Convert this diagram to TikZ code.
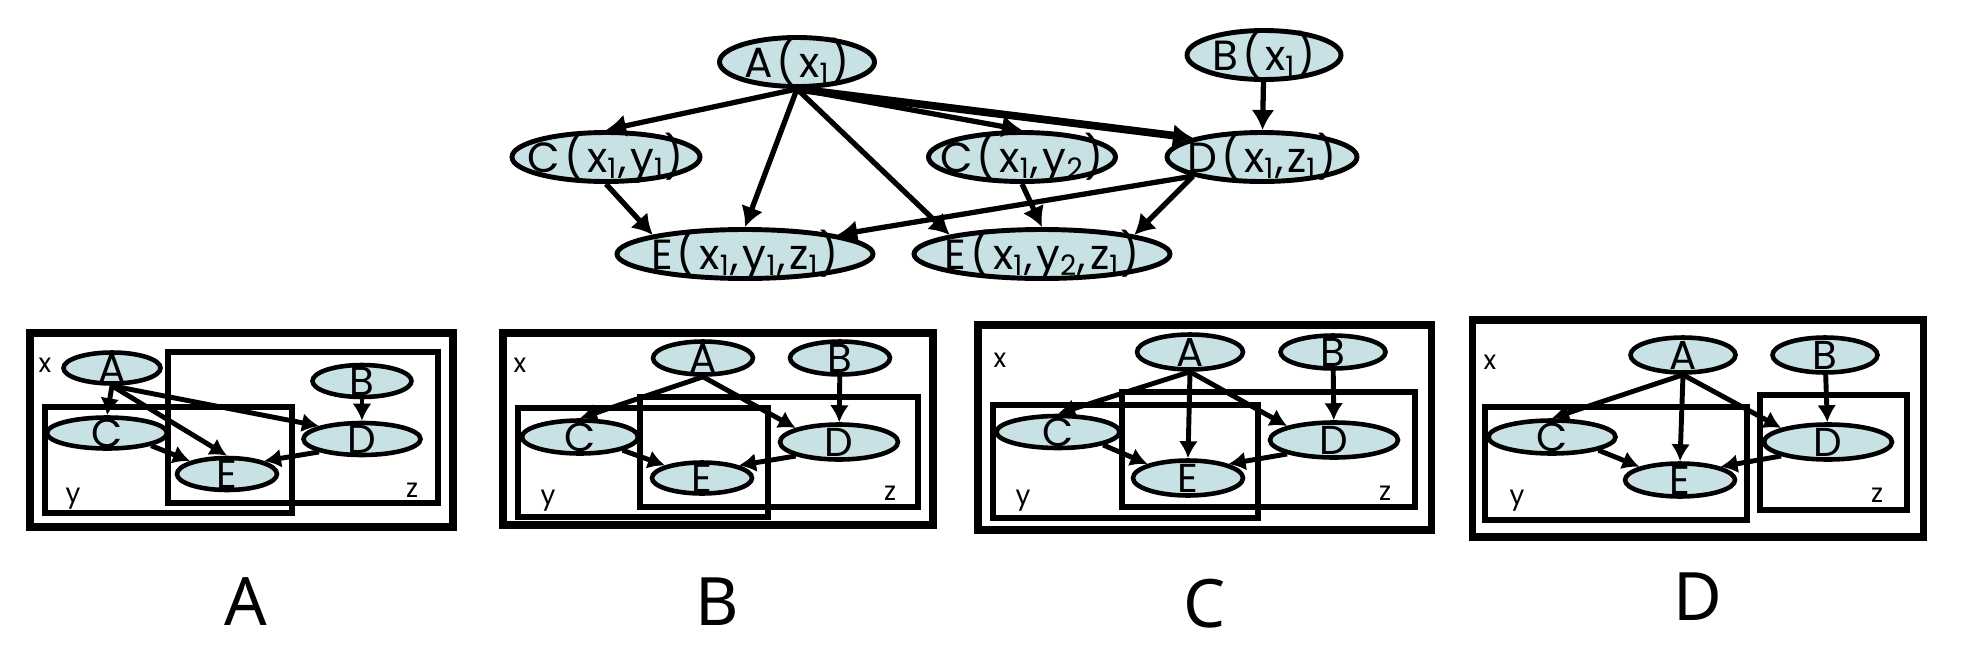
\documentclass[tikz,border=0pt]{standalone}
\usepackage{fontspec}
\setmainfont{Poppins}
\newfontfamily\capfont{Noto Sans}
\usetikzlibrary{positioning, shapes.geometric, arrows.meta}
\definecolor{nodefill}{RGB}{200,225,229}
\newcommand{\ovaltext}[1]{\makebox[0pt]{\raisebox{-0.36em}[0pt][0pt]{#1}}}

\begin{document}
\begin{tikzpicture}[ell/.style={ellipse, draw, line width=1.4pt, fill=nodefill, inner sep=0pt},
  bigell/.style={ell, minimum height=0.49cm, font=\fontsize{12}{12}\selectfont\addfontfeatures{LetterSpace=9}},
  smallell/.style={ell, line width=1.3pt, font=\fontsize{11.5}{11.5}\selectfont},
  arr/.style={-{Latex[length=2mm,width=2.3mm]}, line width=1.5pt},
  parr/.style={-{Latex[length=1.7mm,width=1.9mm]}, line width=1.4pt},
  outerbox/.style={line width=2pt}, plate/.style={line width=1.6pt},
  platelbl/.style={font=\fontsize{7.5}{7.5}\selectfont, inner sep=0pt},
  caplbl/.style={font=\capfont\fontsize{19}{19}\selectfont, anchor=base, inner sep=0pt}]
\useasboundingbox (0,0) rectangle (19.74,-6.52);

% top graph
\node (a) [bigell, minimum width=1.55cm] at (7.97,-0.62) {\ovaltext{A(x\textsubscript{1})}};
\node (b) [bigell, minimum width=1.54cm] at (12.64,-0.55) {\ovaltext{B(x\textsubscript{1})}};
\node (c1) [bigell, minimum width=1.88cm] at (6.06,-1.57) {\ovaltext{C(x\textsubscript{1},y\textsubscript{1})}};
\node (c2) [bigell, minimum width=1.87cm] at (10.22,-1.57) {\ovaltext{C(x\textsubscript{1},y\textsubscript{2})}};
\node (d) [bigell, minimum width=1.90cm] at (12.62,-1.57) {\ovaltext{D(x\textsubscript{1},z\textsubscript{1})}};
\node (e1) [bigell, minimum width=2.56cm] at (7.45,-2.54) {\ovaltext{E(x\textsubscript{1},y\textsubscript{1},z\textsubscript{1})}};
\node (e2) [bigell, minimum width=2.56cm] at (10.42,-2.54) {\ovaltext{E(x\textsubscript{1},y\textsubscript{2},z\textsubscript{1})}};
\draw [arr] (a.south) -- (c1.north);
\draw [arr] (a.south) -- (e1.north);
\draw [arr] (a.south) -- (e2.north west);
\draw [arr] (a.south) -- (c2.north);
\draw [arr, line width=2.2pt] (a.south) -- (d.north west);
\draw [arr] (b) -- (d);
\draw [arr] (c1.south) -- (e1.north west);
\draw [arr] (c2.south) -- (e2.north);
\draw [arr] (d.south west) -- (e1.north east);
\draw [arr] (d.south west) -- (e2.north east);

% panel A
\draw [outerbox] (0.30,-3.33) rectangle (4.53,-5.27);
\draw [plate] (1.68,-3.52) rectangle (4.38,-5.03);
\draw [plate] (0.45,-4.07) rectangle (2.92,-5.13);
\node (ax) [platelbl] at (0.45,-3.65) {x};
\node (ay) [platelbl] at (0.73,-4.99) {y};
\node (az) [platelbl] at (4.12,-4.90) {z};
\node (aA) [smallell, minimum width=0.97cm, minimum height=0.31cm] at (1.12,-3.68) {\ovaltext{A}};
\node (aB) [smallell, minimum width=0.99cm, minimum height=0.32cm] at (3.62,-3.81) {\ovaltext{B}};
\node (aC) [smallell, minimum width=1.20cm, minimum height=0.31cm] at (1.07,-4.33) {\ovaltext{C}};
\node (aD) [smallell, minimum width=1.17cm, minimum height=0.32cm] at (3.62,-4.39) {\ovaltext{D}};
\node (aE) [smallell, minimum width=1.00cm, minimum height=0.32cm] at (2.27,-4.74) {\ovaltext{E}};
\draw [parr] (aA.south) -- (aC.north);
\draw [parr] (aA.south) -- (aE.north);
\draw [parr] (aA.south) -- (aD.north west);
\draw [parr] (aB) -- (aD);
\draw [parr] (aC.south east) -- (aE.north west);
\draw [parr] (aD.south west) -- (aE.north east);

% panel B
\draw [outerbox] (5.03,-3.33) rectangle (9.33,-5.25);
\draw [plate] (6.40,-3.97) rectangle (9.18,-5.07);
\draw [plate] (5.18,-4.08) rectangle (7.68,-5.17);
\node (bx) [platelbl] at (5.20,-3.65) {x};
\node (by) [platelbl] at (5.48,-5.01) {y};
\node (bz) [platelbl] at (8.90,-4.93) {z};
\node (bA) [smallell, minimum width=1.00cm, minimum height=0.33cm] at (7.03,-3.58) {\ovaltext{A}};
\node (bB) [smallell, minimum width=1.00cm, minimum height=0.33cm] at (8.40,-3.58) {\ovaltext{B}};
\node (bC) [smallell, minimum width=1.16cm, minimum height=0.33cm] at (5.80,-4.37) {\ovaltext{C}};
\node (bD) [smallell, minimum width=1.18cm, minimum height=0.35cm] at (8.39,-4.42) {\ovaltext{D}};
\node (bE) [smallell, minimum width=1.00cm, minimum height=0.31cm] at (7.02,-4.78) {\ovaltext{E}};
\draw [parr] (bA.south) -- (bC.north);
\draw [parr] (bA.south) -- (bD.north west);
\draw [parr] (bB) -- (bD);
\draw [parr] (bC.south east) -- (bE.north west);
\draw [parr] (bD.south west) -- (bE.north east);

% panel C
\draw [outerbox] (9.78,-3.25) rectangle (14.31,-5.30);
\draw [plate] (11.22,-3.92) rectangle (14.15,-5.07);
\draw [plate] (9.93,-4.05) rectangle (12.58,-5.18);
\node (cx) [platelbl] at (10.00,-3.60) {x};
\node (cy) [platelbl] at (10.23,-5.01) {y};
\node (cz) [platelbl] at (13.85,-4.93) {z};
\node (cA) [smallell, minimum width=1.06cm, minimum height=0.35cm] at (11.90,-3.52) {\ovaltext{A}};
\node (cB) [smallell, minimum width=1.05cm, minimum height=0.33cm] at (13.33,-3.52) {\ovaltext{B}};
\node (cC) [smallell, minimum width=1.23cm, minimum height=0.32cm] at (10.58,-4.32) {\ovaltext{C}};
\node (cD) [smallell, minimum width=1.28cm, minimum height=0.35cm] at (13.34,-4.40) {\ovaltext{D}};
\node (cE) [smallell, minimum width=1.10cm, minimum height=0.35cm] at (11.88,-4.78) {\ovaltext{E}};
\draw [parr] (cA.south) -- (cC.north);
\draw [parr] (cA.south) -- (cE.north);
\draw [parr] (cA.south) -- (cD.north west);
\draw [parr] (cB) -- (cD);
\draw [parr] (cC.south east) -- (cE.north west);
\draw [parr] (cD.south west) -- (cE.north east);

% panel D
\draw [outerbox] (14.72,-3.20) rectangle (19.23,-5.37);
\draw [plate] (17.60,-3.95) rectangle (19.07,-5.10);
\draw [plate] (14.85,-4.07) rectangle (17.47,-5.20);
\node (dx) [platelbl] at (14.90,-3.62) {x};
\node (dy) [platelbl] at (15.17,-5.01) {y};
\node (dz) [platelbl] at (18.77,-4.95) {z};
\node (dA) [smallell, minimum width=1.05cm, minimum height=0.35cm] at (16.83,-3.55) {\ovaltext{A}};
\node (dB) [smallell, minimum width=1.05cm, minimum height=0.35cm] at (18.25,-3.55) {\ovaltext{B}};
\node (dC) [smallell, minimum width=1.27cm, minimum height=0.33cm] at (15.52,-4.37) {\ovaltext{C}};
\node (dD) [smallell, minimum width=1.28cm, minimum height=0.35cm] at (18.28,-4.42) {\ovaltext{D}};
\node (dE) [smallell, minimum width=1.10cm, minimum height=0.33cm] at (16.80,-4.80) {\ovaltext{E}};
\draw [parr] (dA.south) -- (dC.north);
\draw [parr] (dA.south) -- (dE.north);
\draw [parr] (dA.south) -- (dD.north west);
\draw [parr] (dB) -- (dD);
\draw [parr] (dC.south east) -- (dE.north west);
\draw [parr] (dD.south west) -- (dE.north east);

% captions
\node (capA) [caplbl] at (2.46,-6.25) {A};
\node (capB) [caplbl] at (7.17,-6.25) {B};
\node (capC) [caplbl] at (12.05,-6.27) {C};
\node (capD) [caplbl] at (16.98,-6.20) {D};
\end{tikzpicture}
\end{document}
